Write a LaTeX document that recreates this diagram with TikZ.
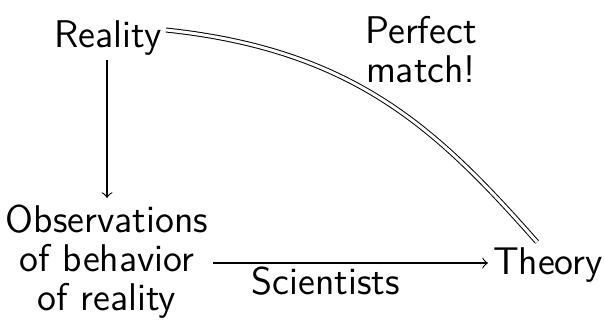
\documentclass[tikz,border=0pt]{standalone}
\begin{document}
\begin{tikzpicture}[x={(0.303pt,0)},y={(0,-0.303pt)},
  lbl/.style={font=\sffamily\fontsize{11.7}{11.8}\selectfont, inner sep=0pt},
  conn/.style={->, draw=black, line width=0.35pt}]
\useasboundingbox (0,0) rectangle (604,325);
\node[lbl] (reality) at (108,38) {Reality};
\node[lbl, align=center] (obs) at (107,262) {Observations\\of behavior\\of reality};
\node[lbl] (theory) at (548,265) {Theory};
\coordinate (rs) at (107,60);
\coordinate (re) at (107,198);
\draw[conn] (rs) -- (re);
\coordinate (os) at (213,263);
\coordinate (oe) at (488,263);
\draw[conn] (os) -- node[lbl, below=1pt, pos=0.41] (sci) {Scientists} (oe);
\coordinate (ds) at (166,30);
\coordinate (de) at (537,242);
\draw[double, line width=0.3pt, double distance=0.9pt] (ds) .. controls (355,50) and (438,130) .. (de);
\node[lbl, align=center] (pm) at (421,50) {Perfect\\match!};
\end{tikzpicture}
\end{document}
